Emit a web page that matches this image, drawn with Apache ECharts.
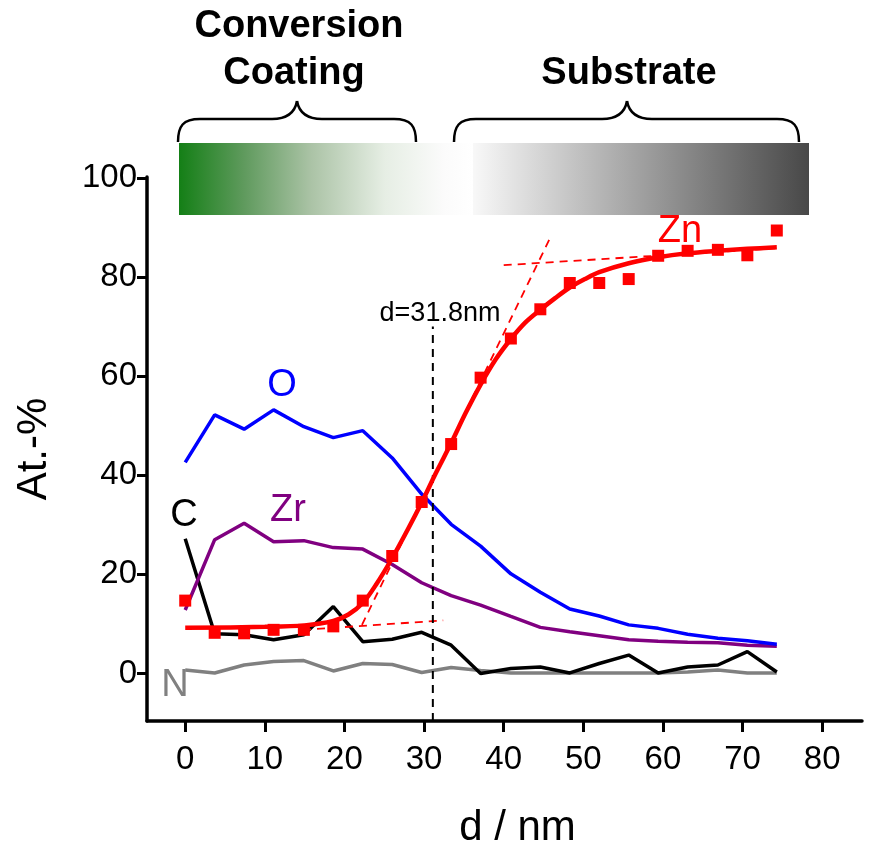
<!DOCTYPE html>
<html>
<head>
<meta charset="utf-8">
<script src="https://cdn.jsdelivr.net/npm/echarts@6/dist/echarts.min.js"></script>
<style>
html, body { margin: 0; padding: 0; background: #fff; }
#chart { width: 884px; height: 842px; }
</style>
</head>
<body>
<div id="chart"></div>
<script>
// depth profile (XPS sputter)
const depth = [0, 3.7, 7.4, 11.1, 14.9, 18.6, 22.3, 26.0, 29.7, 33.4, 37.1, 40.9, 44.6, 48.3, 52.0, 55.7, 59.4, 63.1, 66.9, 70.6, 74.3];
const oxygen = [42.6, 52.2, 49.3, 53.2, 49.8, 47.6, 49.0, 43.5, 36.2, 30.1, 25.7, 20.1, 16.4, 13.0, 11.6, 9.8, 9.1, 7.9, 7.1, 6.6, 5.9];
const zirconium = [12.8, 27.0, 30.3, 26.6, 26.8, 25.4, 25.1, 22.0, 18.3, 15.7, 13.8, 11.5, 9.3, 8.4, 7.6, 6.8, 6.5, 6.3, 6.2, 5.7, 5.5];
const carbon = [27.2, 8.0, 7.8, 6.8, 7.8, 13.5, 6.4, 6.9, 8.3, 5.7, 0.0, 1.0, 1.3, 0.1, 2.0, 3.7, 0.1, 1.3, 1.7, 4.4, 0.3];
const nitrogen = [0.7, 0.1, 1.7, 2.4, 2.6, 0.5, 2.0, 1.8, 0.2, 1.2, 0.6, 0.1, 0.1, 0.1, 0.1, 0.1, 0.1, 0.3, 0.7, 0.1, 0.1];
const zinc = [14.7, 8.2, 8.1, 8.8, 8.8, 9.5, 14.7, 23.7, 34.6, 46.3, 59.7, 67.6, 73.5, 78.8, 78.8, 79.6, 84.3, 85.3, 85.5, 84.4, 89.4];

// sigmoidal fit of Zn
const zincFitDepth = [0, 10, 15, 18.6, 20.5, 22.3, 24, 26, 28, 29.7, 31.5, 33.4, 35.2, 37.1, 39, 40.9, 42.7, 44.6, 46.5, 48.3, 50.2, 52, 55.7, 59.4, 63.1, 66.9, 70.6, 74.3];
const zincFit = [9.2, 9.4, 9.7, 10.6, 11.9, 14.2, 18.0, 23.3, 29.2, 34.5, 40.5, 46.5, 52.5, 58.3, 63.4, 67.5, 70.8, 73.4, 75.8, 77.9, 79.6, 81.0, 82.8, 84.0, 84.8, 85.3, 85.7, 86.0];

// tangents and the interface depth
const tangentLow = [[14.8, 8.8], [32.4, 10.7]];
const tangentSteep = [[22.2, 9.8], [45.8, 87.8]];
const tangentHigh = [[40.0, 82.4], [74.1, 85.8]];
const interfaceDepth = 31.1;
const interfaceLine = [[interfaceDepth, -9.6], [interfaceDepth, 70.0]];

const xTicks = [0, 10, 20, 30, 40, 50, 60, 70, 80];
const yTicks = [0, 20, 40, 60, 80, 100];

const font = "'Liberation Sans', Arial, sans-serif";

function pairs(xs, ys) {
	return xs.map((x, i) => [x, ys[i]]);
}

const chart = echarts.init(document.getElementById('chart'));

function label(text, x, y, color, size, weight) {
	return {
		type: 'text',
		x: x,
		y: y,
		z: 10,
		style: {
			text: text,
			fill: color,
			font: (weight || 'normal') + ' ' + size + 'px ' + font,
			textAlign: 'center',
			textVerticalAlign: 'middle'
		}
	};
}

// curly brace over [x0, x1], tip at xm
function brace(x0, xm, x1) {
	const top = 119, tip = 101, bot = 142;
	const st = { fill: 'none', stroke: '#000', lineWidth: 2.5 };
	return [
		{ type: 'bezierCurve', shape: { x1: x0, y1: bot, cpx1: x0, cpy1: 126, cpx2: x0 + 5, cpy2: top, x2: x0 + 22, y2: top }, style: st },
		{ type: 'line', shape: { x1: x0 + 22, y1: top, x2: xm - 25, y2: top }, style: st },
		{ type: 'bezierCurve', shape: { x1: xm - 25, y1: top, cpx1: xm - 9, cpy1: top, cpx2: xm - 2, cpy2: 112, x2: xm, y2: tip }, style: st },
		{ type: 'bezierCurve', shape: { x1: xm, y1: tip, cpx1: xm + 2, cpy1: 112, cpx2: xm + 9, cpy2: top, x2: xm + 25, y2: top }, style: st },
		{ type: 'line', shape: { x1: xm + 25, y1: top, x2: x1 - 22, y2: top }, style: st },
		{ type: 'bezierCurve', shape: { x1: x1 - 22, y1: top, cpx1: x1 - 5, cpy1: top, cpx2: x1, cpy2: 126, x2: x1, y2: bot }, style: st }
	];
}

const dashed = {
	color: '#ff0000',
	width: 1.8,
	type: [8, 6]
};

let option = {
	backgroundColor: '#fff',
	animation: false,
	grid: {
		left: 147,
		right: 22,
		top: 177,
		bottom: 121,
		containLabel: false,
		outerBoundsMode: 'none'
	},
	xAxis: {
		type: 'value',
		min: -4.8,
		max: 85,
		name: 'd / nm',
		nameLocation: 'middle',
		nameGap: 86,
		nameTextStyle: { fontFamily: font, fontSize: 42, color: '#000', padding: [0, 0, 0, 26] },
		axisLine: { onZero: false, lineStyle: { color: '#000', width: 3.5 } },
		axisTick: { customValues: xTicks, length: 11, lineStyle: { color: '#000', width: 3 } },
		axisLabel: { customValues: xTicks, margin: 22, fontFamily: font, fontSize: 33, color: '#000' },
		splitLine: { show: false }
	},
	yAxis: {
		type: 'value',
		min: -9.6,
		max: 100.2,
		name: 'At.-%',
		nameLocation: 'middle',
		nameGap: 92,
		nameTextStyle: { fontFamily: font, fontSize: 42, color: '#000' },
		axisLine: { onZero: false, lineStyle: { color: '#000', width: 3.5 } },
		axisTick: { customValues: yTicks, length: 10, lineStyle: { color: '#000', width: 3 } },
		axisLabel: { customValues: yTicks, margin: 10, fontFamily: font, fontSize: 33, color: '#000' },
		splitLine: { show: false }
	},
	series: [{
		name: 'N',
		type: 'line',
		data: pairs(depth, nitrogen),
		symbol: 'none',
		lineStyle: { color: '#808080', width: 3.5 },
		z: 2
	}, {
		name: 'C',
		type: 'line',
		data: pairs(depth, carbon),
		symbol: 'none',
		lineStyle: { color: '#000000', width: 3.5 },
		z: 3
	}, {
		name: 'Zr',
		type: 'line',
		data: pairs(depth, zirconium),
		symbol: 'none',
		lineStyle: { color: '#800080', width: 3.5 },
		z: 3
	}, {
		name: 'O',
		type: 'line',
		data: pairs(depth, oxygen),
		symbol: 'none',
		lineStyle: { color: '#0000ff', width: 3.5 },
		z: 3
	}, {
		type: 'line',
		data: tangentLow,
		symbol: 'none',
		lineStyle: dashed,
		z: 4
	}, {
		type: 'line',
		data: tangentSteep,
		symbol: 'none',
		lineStyle: dashed,
		z: 4
	}, {
		type: 'line',
		data: tangentHigh,
		symbol: 'none',
		lineStyle: dashed,
		z: 4
	}, {
		type: 'line',
		data: interfaceLine,
		symbol: 'none',
		lineStyle: { color: '#000', width: 2, type: [8, 6] },
		z: 4
	}, {
		name: 'Zn fit',
		type: 'line',
		data: pairs(zincFitDepth, zincFit),
		symbol: 'none',
		smooth: 0.3,
		lineStyle: { color: '#ff0000', width: 4.5 },
		z: 5
	}, {
		name: 'Zn',
		type: 'scatter',
		data: pairs(depth, zinc),
		symbol: 'rect',
		symbolSize: 12,
		itemStyle: { color: '#ff0000', opacity: 1 },
		z: 6
	}],
	graphic: [{
		type: 'rect',
		shape: { x: 179, y: 143, width: 294, height: 72 },
		style: {
			fill: new echarts.graphic.LinearGradient(0, 0, 1, 0, [
				{ offset: 0, color: '#147f16' },
				{ offset: 0.22, color: '#5f9a5d' },
				{ offset: 0.45, color: '#abc3a6' },
				{ offset: 0.7, color: '#e6eee4' },
				{ offset: 0.9, color: '#fbfbfb' },
				{ offset: 1, color: '#ffffff' }
			])
		}
	}, {
		type: 'rect',
		shape: { x: 473, y: 143, width: 336, height: 72 },
		style: {
			fill: new echarts.graphic.LinearGradient(0, 0, 1, 0, [
				{ offset: 0, color: '#f8f8f8' },
				{ offset: 1, color: '#484848' }
			])
		}
	}].concat(brace(178, 297, 416), brace(454, 627, 799), [
		label('Conversion', 299, 27, '#000', 38, 'bold'),
		label('Coating', 294, 74, '#000', 38, 'bold'),
		label('Substrate', 629, 74, '#000', 38, 'bold'),
		label('O', 282, 386, '#0000ff', 38),
		label('Zr', 288, 511, '#800080', 38),
		label('C', 184, 516, '#000000', 38),
		label('N', 175, 686, '#808080', 38),
		label('Zn', 680, 232, '#ff0000', 38),
		label('d=31.8nm', 440, 314, '#000', 27)
	])
};

chart.setOption(option);
</script>
</body>
</html>
